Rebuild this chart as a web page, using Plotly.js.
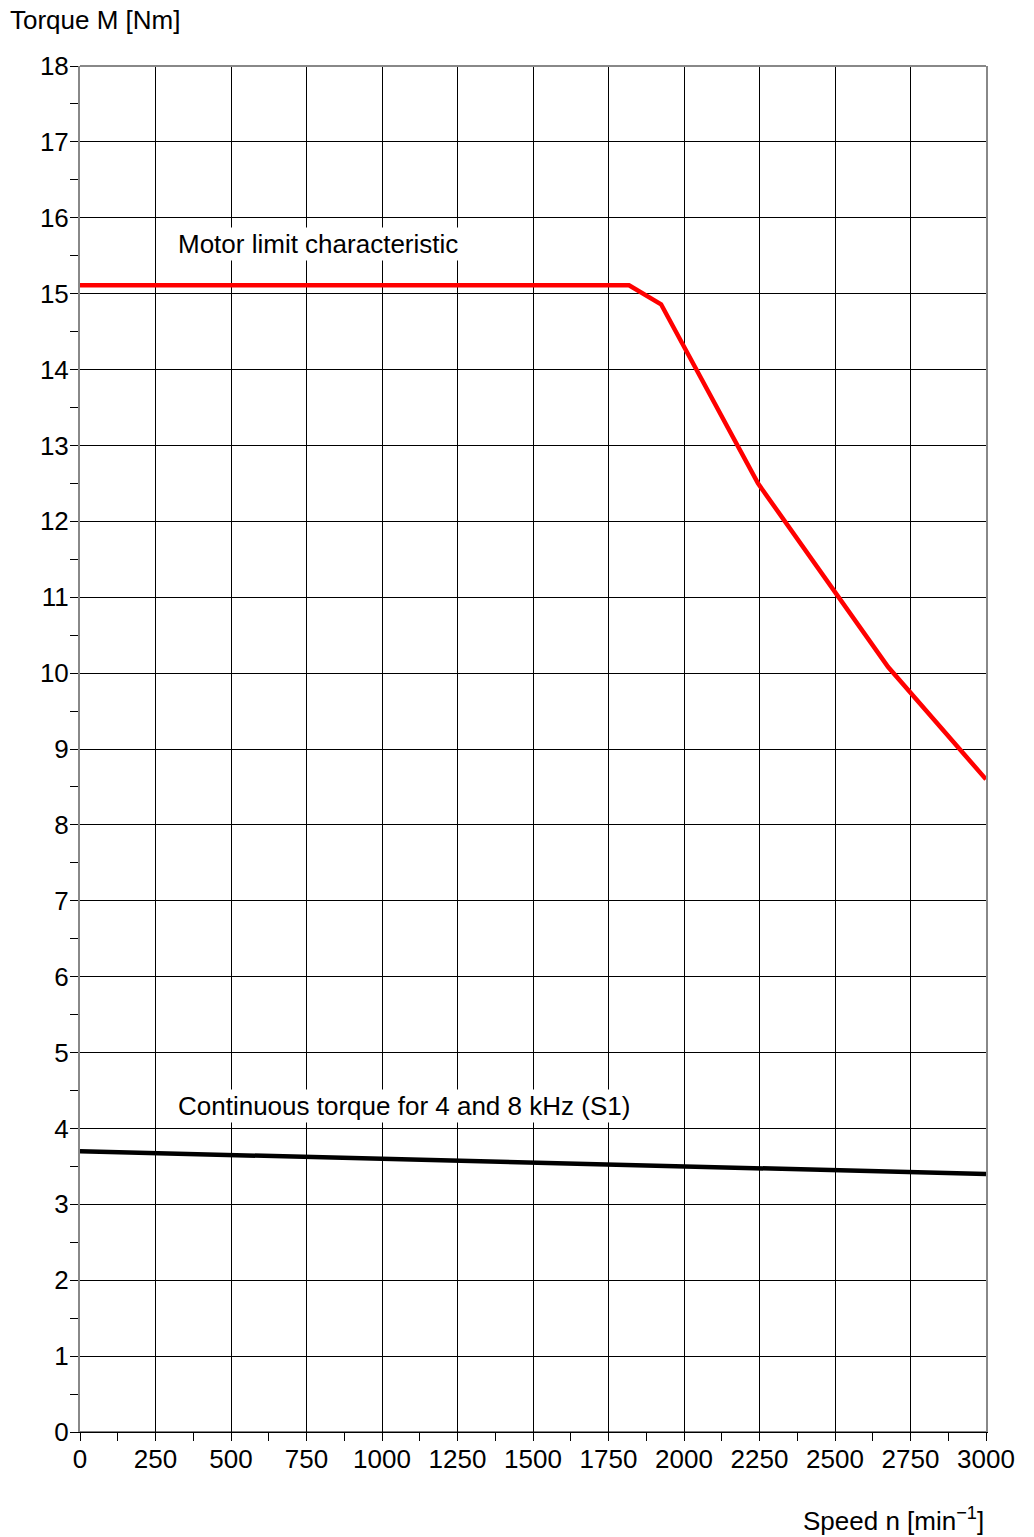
<!DOCTYPE html>
<html>
<head>
<meta charset="utf-8">
<script src="https://cdn.plot.ly/plotly-3.0.1.min.js"></script>
<style>html,body{margin:0;padding:0;background:#fff;}#chart{width:1034px;height:1537px;}</style>
</head>
<body>
<div id="chart"></div>
<script>
const limitSpeed = [0, 1818, 1924, 2245, 2676, 3000];
const limitTorque = [15.11, 15.11, 14.86, 12.50, 10.08, 8.60];
const contSpeed = [0, 1500, 3000];
const contTorque = [3.70, 3.55, 3.40];
const xTickVals = [0, 250, 500, 750, 1000, 1250, 1500, 1750, 2000, 2250, 2500, 2750, 3000];
const yTickVals = [0,1,2,3,4,5,6,7,8,9,10,11,12,13,14,15,16,17,18];
const limitLabel = "Motor limit characteristic";
const contLabel = "Continuous torque for 4 and 8 kHz (S1)";
const xTitle = "Speed n [min<sup>−1</sup>]";
const yTitle = "Torque M [Nm]";

const font = "Liberation Sans, Arial, Helvetica, sans-serif";
const fs = 26;

const traces = [
  {x: limitSpeed, y: limitTorque, type: 'scatter', mode: 'lines', line: {color: '#ff0000', width: 4.5}, hoverinfo: 'none'},
  {x: contSpeed, y: contTorque, type: 'scatter', mode: 'lines', line: {color: '#000000', width: 4.5}, hoverinfo: 'none'}
];

const layout = {
  width: 1034, height: 1537,
  margin: {l: 80, r: 48, t: 66, b: 105},
  paper_bgcolor: '#fff', plot_bgcolor: '#fff',
  showlegend: false,
  font: {family: font, size: fs, color: '#000'},
  xaxis: {
    range: [0, 3000], tickmode: 'array', tickvals: xTickVals, ticktext: xTickVals.map(String),
    showgrid: true, gridcolor: '#000', gridwidth: 1, zeroline: false,
    showline: true, linecolor: '#000', linewidth: 1,
    ticks: 'outside', ticklen: 8, tickcolor: '#000', tickwidth: 1, ticklabelstandoff: -4,
    tickfont: {family: font, size: fs, color: '#000'},
    minor: {dtick: 125, tick0: 0, ticks: 'outside', ticklen: 8, tickcolor: '#000', tickwidth: 1, showgrid: false},
    fixedrange: true
  },
  yaxis: {
    range: [0, 18], tickmode: 'array', tickvals: yTickVals, ticktext: yTickVals.map(String),
    showgrid: true, gridcolor: '#000', gridwidth: 1, zeroline: false,
    showline: true, linecolor: '#888', linewidth: 2, mirror: true,
    ticks: 'outside', ticklen: 8, tickcolor: '#000', tickwidth: 1, ticklabelstandoff: -4,
    tickfont: {family: font, size: fs, color: '#000'},
    minor: {dtick: 0.5, tick0: 0, ticks: 'outside', ticklen: 8, tickcolor: '#000', tickwidth: 1, showgrid: false},
    fixedrange: true
  },
  shapes: [
    {type: 'line', xref: 'paper', yref: 'paper', x0: 0, x1: 1, y0: 1, y1: 1, line: {color: '#888', width: 2}, layer: 'above'},
    {type: 'line', xref: 'paper', yref: 'paper', x0: 0, x1: 1, y0: 0, y1: 0, line: {color: '#000', width: 1}, layer: 'above'}
  ],
  annotations: [
    {x: 318, y: 15.65, xref: 'x', yref: 'y', text: limitLabel, showarrow: false, xanchor: 'left', yanchor: 'middle',
     bgcolor: '#fff', borderpad: 1, font: {family: font, size: fs, color: '#000'}},
    {x: 318, y: 4.30, xref: 'x', yref: 'y', text: contLabel, showarrow: false, xanchor: 'left', yanchor: 'middle',
     bgcolor: '#fff', borderpad: 1, font: {family: font, size: fs, color: '#000'}},
    {x: -80/906, y: 1 + 46/1366, xref: 'paper', yref: 'paper', text: yTitle, showarrow: false, xanchor: 'left', yanchor: 'middle',
     xshift: 8, font: {family: font, size: fs, color: '#000'}},
    {x: 1, y: -88/1366, xref: 'paper', yref: 'paper', text: xTitle, showarrow: false, xanchor: 'right', yanchor: 'middle',
     font: {family: font, size: fs, color: '#000'}}
  ]
};

Plotly.newPlot('chart', traces, layout, {displayModeBar: false, staticPlot: true});
</script>
</body>
</html>
